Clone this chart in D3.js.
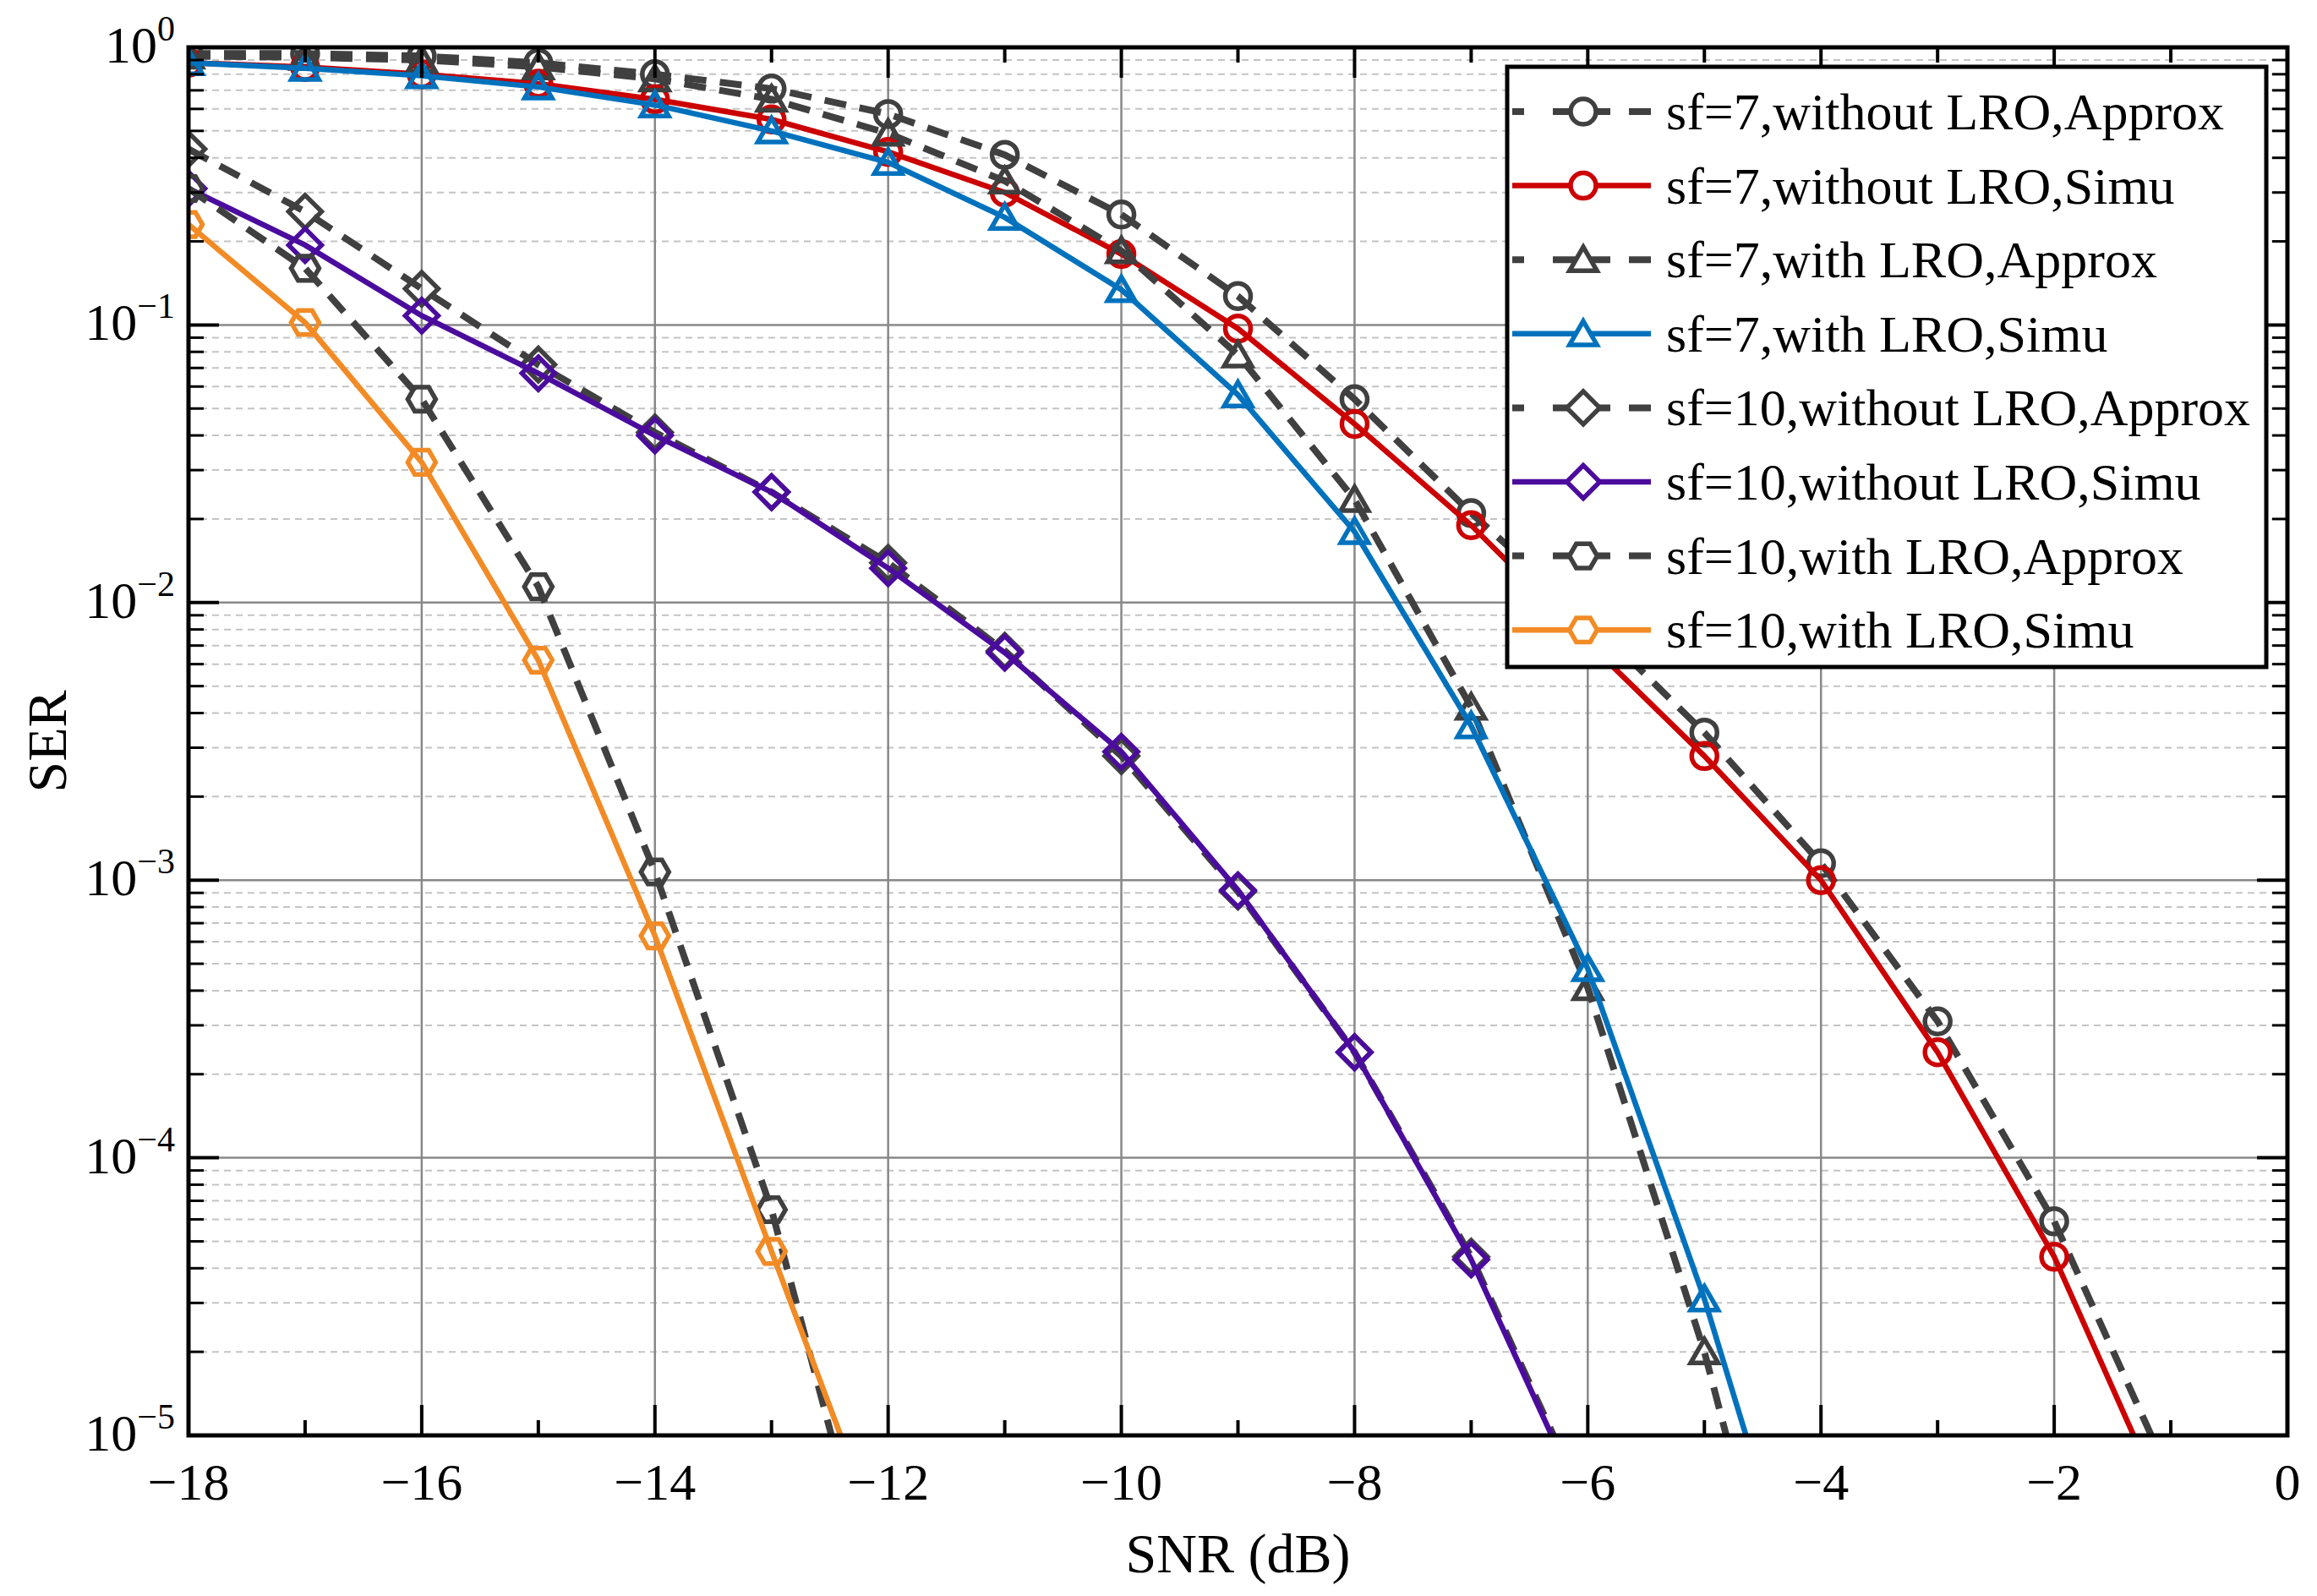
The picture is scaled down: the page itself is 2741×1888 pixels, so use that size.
<!DOCTYPE html>
<html>
<head>
<meta charset="utf-8">
<script src="https://cdn.jsdelivr.net/npm/d3@7"></script>
<style>
  body { margin: 0; background: #fff; }
  text { font-family: "Liberation Serif", "DejaVu Serif", serif; }
</style>
</head>
<body>
<svg id="chart" width="2741" height="1888"></svg>
<script>
// SNR points (dB)
var snr = [-18, -17, -16, -15, -14, -13, -12, -11, -10, -9, -8, -7, -6, -5, -4, -3, -2, -1];

// SER values
var sf7NoLroApprox = [0.95, 0.95, 0.93, 0.88, 0.80, 0.71, 0.575, 0.41, 0.25, 0.127, 0.054, 0.021, 0.0088, 0.0034, 0.00115, 0.00031, 5.9e-5, 7e-6];
var sf7NoLroSimu   = [0.88, 0.85, 0.80, 0.74, 0.65, 0.55, 0.42, 0.30, 0.18, 0.097, 0.044, 0.019, 0.0072, 0.0028, 0.0010, 0.00024, 4.4e-5, 5e-6];
var sf7LroApprox   = [0.93, 0.92, 0.90, 0.85, 0.77, 0.65, 0.49, 0.33, 0.185, 0.078, 0.0235, 0.0042, 0.00041, 2.0e-5, 5e-7];
var sf7LroSimu     = [0.88, 0.84, 0.79, 0.72, 0.62, 0.50, 0.385, 0.244, 0.134, 0.056, 0.018, 0.0036, 0.00048, 3.1e-5, 1.3e-6];
var sf10NoLroApprox = [0.43, 0.256, 0.135, 0.072, 0.041, 0.025, 0.0139, 0.0067, 0.0028, 0.00091, 0.00024, 4.4e-5, 5.4e-6];
var sf10NoLroSimu   = [0.31, 0.194, 0.108, 0.067, 0.040, 0.025, 0.0133, 0.0066, 0.0029, 0.00092, 0.00024, 4.3e-5, 5.2e-6];
var sf10LroApprox   = [0.31, 0.16, 0.054, 0.0114, 0.00107, 6.5e-5, 1.7e-6];
var sf10LroSimu     = [0.23, 0.102, 0.032, 0.0062, 0.00063, 4.6e-5, 3.5e-6];

var labels = ["sf=7,without LRO,Approx", "sf=7,without LRO,Simu", "sf=7,with LRO,Approx", "sf=7,with LRO,Simu",
  "sf=10,without LRO,Approx", "sf=10,without LRO,Simu", "sf=10,with LRO,Approx", "sf=10,with LRO,Simu"];
var seriesValues = [sf7NoLroApprox, sf7NoLroSimu, sf7LroApprox, sf7LroSimu, sf10NoLroApprox, sf10NoLroSimu, sf10LroApprox, sf10LroSimu];
var colors = ["#404040", "#cc0000", "#404040", "#0072bd", "#404040", "#4b0c9e", "#404040", "#f28b25"];
var markers = ["circle", "circle", "triangle", "triangle", "diamond", "diamond", "hexagon", "hexagon"];
var dashed = [true, false, true, false, true, false, true, false];
var xTicks = [-18, -16, -14, -12, -10, -8, -6, -4, -2, 0];
var yExps = [0, -1, -2, -3, -4, -5];

var margin = {left: 223, right: 35, top: 56, bottom: 190};
var W = 2741, H = 1888;
var iw = W - margin.left - margin.right, ih = H - margin.top - margin.bottom;

var svg = d3.select("#chart");
var g = svg.append("g").attr("transform", `translate(${margin.left},${margin.top})`);

var x = d3.scaleLinear().domain([-18, 0]).range([0, iw]);
var y = d3.scaleLog().domain([1e-5, 1]).range([ih, 0]);

// minor grid (dashed)
var minors = [];
for (var e = -5; e < 0; e++) for (var m = 2; m <= 9; m++) minors.push(m * Math.pow(10, e));
g.selectAll(".minor").data(minors).enter().append("line")
  .attr("x1", 0).attr("x2", iw).attr("y1", d => y(d)).attr("y2", d => y(d))
  .attr("stroke", "#c4c4c4").attr("stroke-width", 2).attr("stroke-dasharray", "8,6");

// major grid
g.selectAll(".vgrid").data(xTicks).enter().append("line")
  .attr("x1", d => x(d)).attr("x2", d => x(d)).attr("y1", 0).attr("y2", ih)
  .attr("stroke", "#888").attr("stroke-width", 2.5);
g.selectAll(".hgrid").data(yExps).enter().append("line")
  .attr("x1", 0).attr("x2", iw).attr("y1", d => y(Math.pow(10, d))).attr("y2", d => y(Math.pow(10, d)))
  .attr("stroke", "#888").attr("stroke-width", 2.5);

// clip
svg.append("clipPath").attr("id", "clip").append("rect").attr("width", iw).attr("height", ih);
var plot = g.append("g").attr("clip-path", "url(#clip)");

function markerPath(type, r) {
  if (type === "circle") return d3.symbol(d3.symbolCircle, Math.PI * r * r)();
  var n = type === "triangle" ? 3 : type === "diamond" ? 4 : 6;
  var rr = type === "triangle" ? r * 1.25 : type === "diamond" ? r * 1.3 : r * 1.1;
  var off = type === "hexagon" ? 0 : -Math.PI / 2;
  var pts = d3.range(n).map(i => {
    var a = off + i * 2 * Math.PI / n;
    return [rr * Math.cos(a), rr * Math.sin(a) + (type === "triangle" ? r * 0.25 : 0)];
  });
  return "M" + pts.join("L") + "Z";
}

var line = d3.line().x(d => x(d[0])).y(d => y(d[1]));

seriesValues.forEach((vals, i) => {
  var pts = vals.map((v, k) => [snr[k], v]);
  plot.append("path").datum(pts)
    .attr("d", line).attr("fill", "none")
    .attr("stroke", colors[i]).attr("stroke-width", dashed[i] ? 8 : 6.5)
    .attr("stroke-dasharray", dashed[i] ? "26,16" : null);
  plot.selectAll(".m" + i).data(pts.filter(p => p[1] >= 1e-5)).enter().append("path")
    .attr("transform", d => `translate(${x(d[0])},${y(d[1])})`)
    .attr("d", markerPath(markers[i], 15))
    .attr("fill", "none").attr("stroke", colors[i]).attr("stroke-width", 5.5);
});

// frame with inward ticks
g.append("rect").attr("width", iw).attr("height", ih).attr("fill", "none").attr("stroke", "#000").attr("stroke-width", 5);
var ticks = g.append("g").attr("stroke", "#000");
d3.range(-18, 1, 1).forEach(v => {
  var len = v % 2 === 0 ? 36 : 18;
  ticks.append("line").attr("x1", x(v)).attr("x2", x(v)).attr("y1", ih).attr("y2", ih - len).attr("stroke-width", 4);
  ticks.append("line").attr("x1", x(v)).attr("x2", x(v)).attr("y1", 0).attr("y2", len).attr("stroke-width", 4);
});
yExps.forEach(ex => {
  var v = Math.pow(10, ex);
  ticks.append("line").attr("x1", 0).attr("x2", 36).attr("y1", y(v)).attr("y2", y(v)).attr("stroke-width", 4);
  ticks.append("line").attr("x1", iw).attr("x2", iw - 36).attr("y1", y(v)).attr("y2", y(v)).attr("stroke-width", 4);
});
minors.forEach(v => {
  ticks.append("line").attr("x1", 0).attr("x2", 18).attr("y1", y(v)).attr("y2", y(v)).attr("stroke-width", 3);
  ticks.append("line").attr("x1", iw).attr("x2", iw - 18).attr("y1", y(v)).attr("y2", y(v)).attr("stroke-width", 3);
});

// tick labels
g.selectAll(".xl").data(xTicks).enter().append("text")
  .attr("x", d => x(d)).attr("y", ih + 76).attr("text-anchor", "middle")
  .attr("font-size", 62).text(d => d < 0 ? "\u2212" + Math.abs(d) : d);
yExps.forEach(ex => {
  var t = g.append("text").attr("x", -16).attr("y", y(Math.pow(10, ex)) + 18)
    .attr("text-anchor", "end").attr("font-size", 62);
  t.append("tspan").text("10");
  t.append("tspan").attr("dy", -26).attr("font-size", 42).text(ex === 0 ? "0" : "\u2212" + Math.abs(ex));
});

// axis titles
svg.append("text").attr("x", margin.left + iw / 2).attr("y", H - 28).attr("text-anchor", "middle")
  .attr("font-size", 66).text("SNR (dB)");
svg.append("text").attr("transform", `translate(78,${margin.top + ih / 2}) rotate(-90)`)
  .attr("text-anchor", "middle").attr("font-size", 66).text("SER");

// legend
var lg = svg.append("g").attr("transform", "translate(1783,79)");
lg.append("rect").attr("width", 898).attr("height", 710).attr("fill", "#fff").attr("stroke", "#000").attr("stroke-width", 5);
labels.forEach((lab, i) => {
  var cy = 53 + i * 87.6;
  lg.append("line").attr("x1", 6).attr("x2", 170).attr("y1", cy).attr("y2", cy)
    .attr("stroke", colors[i]).attr("stroke-width", dashed[i] ? 8 : 6.5)
    .attr("stroke-dasharray", dashed[i] ? "14,34,68,22,26,100" : null);
  lg.append("path").attr("transform", `translate(90,${cy})`).attr("d", markerPath(markers[i], 15))
    .attr("fill", "#fff").attr("stroke", colors[i]).attr("stroke-width", 5.5);
  lg.append("text").attr("x", 188).attr("y", cy + 21).attr("font-size", 62).text(lab);
});
</script>
</body>
</html>
